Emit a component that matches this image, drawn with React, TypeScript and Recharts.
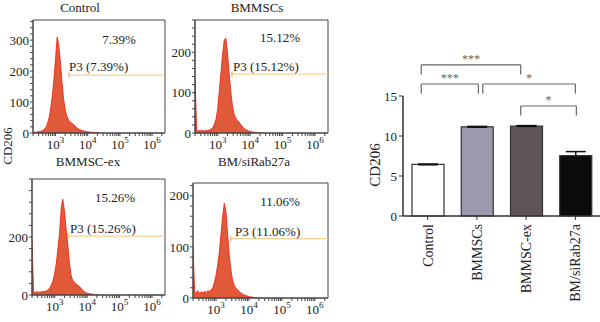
import React from 'react'
import {
  AreaChart,
  Area,
  BarChart,
  Bar,
  Cell,
  ErrorBar,
  XAxis,
  YAxis,
  ReferenceArea,
  ReferenceLine,
} from 'recharts'

const FONT = '"Liberation Serif", "DejaVu Serif", serif'
const INK = '#222'

// ─── Histogram data (log10 of CD206 intensity vs. count) ─────────────────────

const LOG_BINS = [
  2.3, 2.35, 2.4, 2.45, 2.5, 2.55, 2.6, 2.65, 2.7, 2.75,
  2.8, 2.85, 2.9, 2.95, 3.0, 3.05, 3.1, 3.15, 3.2, 3.25,
  3.3, 3.35, 3.4, 3.45, 3.5, 3.55, 3.6, 3.65, 3.7, 3.75,
  3.8, 3.85, 3.9, 3.95, 4.0, 4.05, 4.1, 4.15, 4.2, 4.25,
  4.3, 4.35, 4.4,
]

const CONTROL_COUNTS = [
  2, 3, 2, 5, 4, 6, 8, 12, 18, 30,
  50, 80, 120, 175, 240, 310, 285, 230, 165, 110,
  75, 55, 42, 36, 32, 28, 24, 18, 14, 11,
  9, 7, 6, 5, 4, 3, 3, 2, 2, 1,
  1, 0, 0,
]

const BMMSCS_COUNTS = [
  138, 6, 5, 7, 5, 6, 5, 7, 6, 8,
  10, 14, 22, 35, 60, 105, 150, 195, 230, 235,
  200, 150, 105, 70, 48, 38, 32, 28, 22, 17,
  12, 9, 7, 5, 4, 3, 2, 2, 1, 1,
  0, 0, 0,
]

const BMMSC_EX_COUNTS = [
  190, 10, 8, 12, 9, 11, 10, 13, 12, 15,
  18, 25, 35, 50, 75, 110, 160, 215, 300, 330,
  290, 230, 180, 115, 70, 52, 45, 40, 35, 30,
  25, 18, 12, 9, 6, 5, 4, 3, 2, 1,
  1, 0, 0,
]

const SIRAB_COUNTS = [
  100, 12, 10, 14, 9, 12, 10, 13, 11, 14,
  13, 16, 20, 30, 45, 65, 90, 125, 160, 185,
  170, 125, 85, 55, 35, 25, 20, 16, 13, 10,
  8, 6, 5, 4, 3, 2, 2, 1, 1, 0,
  0, 0, 0,
]

const PANEL_COUNTS = [CONTROL_COUNTS, BMMSCS_COUNTS, BMMSC_EX_COUNTS, SIRAB_COUNTS]
const PANEL_TITLES = ['Control', 'BMMSCs', 'BMMSC-ex', 'BM/siRab27a']
const PANEL_PCTS = ['7.39%', '15.12%', '15.26%', '11.06%']
const Y_MAX = [365, 280, 400, 225]
const Y_TICK_STEP = [20, 20, 40, 20]
const Y_LABEL_STEP = [100, 100, 200, 100]
const GATE_START = [3.42, 3.44, 3.41, 3.45]
const GATE_LEVEL = [187, 146, 203, 116]
const X_MAJOR = [3, 4, 5, 6]
const X_MIN = 2.3
const X_MAX = 6.4

// ─── Bar chart data ──────────────────────────────────────────────────────────

const BAR_GROUPS = ['Control', 'BMMSCs', 'BMMSC-ex', 'BM/siRab27a']
const BAR_MEANS = [6.45, 11.15, 11.25, 7.55]
const BAR_ERRORS = [0.05, 0.05, 0.05, 0.5]
const BAR_FILLS = ['#ffffff', '#9c9aaf', '#5f5559', '#0b0b0b']
const BAR_Y_TICKS = [0, 5, 10, 15]

const SIG_X1 = [-0.13, -0.13, 1.12, 1.89]
const SIG_X2 = [1.89, 1.03, 3.0, 3.02]
const SIG_LEVEL = [18.9, 16.5, 16.5, 13.75]
const SIG_MARK = ['***', '***', '*', '*']

// ─── Layout ──────────────────────────────────────────────────────────────────

const BOXES = [
  { x0: 33, x1: 165, y0: 20, y1: 133 },
  { x0: 195, x1: 328, y0: 20, y1: 133 },
  { x0: 32, x1: 165, y0: 179, y1: 295 },
  { x0: 193, x1: 328, y0: 183, y1: 298 },
]
const TITLE_POS = [[80, 7], [257, 7], [88, 161], [254, 161]]
const PCT_POS = [[119, 39], [280, 37], [115, 197], [280, 201]]
const GATE_LABEL_POS = [[69, 66], [233, 66], [70, 228], [235, 231]]

const X_TICKS: number[] = []
for (let n = 2; n <= 6; n++) {
  for (let k = 1; k <= 9; k++) {
    const v = k === 1 ? n : n + Math.log10(k)
    if (v >= X_MIN && v <= X_MAX) X_TICKS.push(v)
  }
}

// ─── Helpers ─────────────────────────────────────────────────────────────────

function Txt({ x, y, children, size = 13, anchor = 'middle', rotate = 0 }: {
  x: number; y: number; children: React.ReactNode; size?: number; anchor?: 'middle' | 'start'; rotate?: number
}) {
  const tx = anchor === 'middle' ? '-50%' : '0'
  return (
    <div
      style={{
        position: 'absolute', left: x, top: y, fontSize: size, fontFamily: FONT, color: INK,
        lineHeight: 1, whiteSpace: 'nowrap',
        transform: `translate(${tx}, -50%) rotate(${rotate}deg)`,
      }}
    >
      {children}
    </div>
  )
}

function PowerTick(props: any) {
  const { x, y, payload } = props
  if (!X_MAJOR.includes(payload.value)) return <g />
  return (
    <text x={x} y={y + 11} textAnchor="middle" fontSize={13} fontFamily={FONT} fill={INK}>
      <tspan>10</tspan>
      <tspan dy={-6} fontSize={9}>{payload.value}</tspan>
    </text>
  )
}

function GroupTick(props: any) {
  const { x, y, payload } = props
  return (
    <text
      x={x} y={y + 2} dy="0.35em" textAnchor="end" fontSize={14} fontFamily={FONT} fill={INK}
      transform={`rotate(-90, ${x}, ${y + 2})`}
    >
      {BAR_GROUPS[payload.value]}
    </text>
  )
}

// ─── Histogram panel ─────────────────────────────────────────────────────────

function Histogram({ i }: { i: number }) {
  const box = BOXES[i]
  const yMax = Y_MAX[i]
  const data = LOG_BINS.map((x, k) => ({ x, c: PANEL_COUNTS[i][k] }))
  const yTicks: number[] = []
  for (let v = 0; v <= yMax; v += Y_TICK_STEP[i]) yTicks.push(v)
  const half = yMax * 0.025
  return (
    <div style={{ position: 'absolute', left: box.x0 - 30, top: box.y0 - 6 }}>
      <AreaChart
        width={box.x1 - box.x0 + 36}
        height={box.y1 - box.y0 + 30}
        data={data}
        margin={{ top: 6, right: 6, bottom: 0, left: 0 }}
      >
        <XAxis
          dataKey="x" type="number" domain={[X_MIN, X_MAX]} allowDataOverflow
          ticks={X_TICKS} interval={0} tick={<PowerTick />} tickSize={3} height={24}
          axisLine={{ stroke: '#444' }} tickLine={{ stroke: '#444' }}
        />
        <YAxis
          type="number" domain={[0, yMax]} allowDataOverflow ticks={yTicks} interval={0}
          width={30} tickSize={3} tickMargin={1}
          tickFormatter={(v: number) => (v % Y_LABEL_STEP[i] === 0 && v < yMax * 0.97 ? String(v) : '')}
          tick={{ fontSize: 13, fontFamily: FONT, fill: INK }}
          axisLine={{ stroke: '#444' }} tickLine={{ stroke: '#444' }}
        />
        <Area
          type="linear" dataKey="c" fill="#e05a3a" fillOpacity={1} stroke="#f2190c" strokeWidth={0.8}
          dot={false} activeDot={false} isAnimationActive={false}
        />
        <ReferenceLine
          segment={[{ x: GATE_START[i], y: GATE_LEVEL[i] }, { x: X_MAX, y: GATE_LEVEL[i] }]}
          stroke="#f8c47c" strokeWidth={1}
        />
        <ReferenceLine
          segment={[{ x: GATE_START[i], y: GATE_LEVEL[i] - half }, { x: GATE_START[i], y: GATE_LEVEL[i] + half }]}
          stroke="#f3a94a" strokeWidth={1}
        />
        <ReferenceArea x1={X_MIN} x2={X_MAX} y1={0} y2={yMax} fill="none" stroke="#444" strokeWidth={1} />
      </AreaChart>
    </div>
  )
}

// ─── Bar chart ───────────────────────────────────────────────────────────────

function Cd206Bars() {
  const data = BAR_GROUPS.map((name, i) => ({ idx: i, name, mean: BAR_MEANS[i], err: BAR_ERRORS[i] }))
  return (
    <div style={{ position: 'absolute', left: 340, top: 0 }}>
      <BarChart width={260} height={322} data={data} margin={{ top: 96, right: 0, bottom: 0, left: 0 }}>
        <XAxis
          dataKey="idx" type="number" domain={[-0.5, 3.5]} allowDataOverflow ticks={[0, 1, 2, 3]}
          interval={0} height={106} tick={<GroupTick />} tickSize={4}
          axisLine={{ stroke: '#333', strokeWidth: 1.5 }} tickLine={{ stroke: '#333' }}
        />
        <YAxis
          type="number" domain={[0, 15]} ticks={BAR_Y_TICKS} interval={0} width={63} tickSize={4}
          tick={{ fontSize: 13, fontFamily: FONT, fill: INK }}
          axisLine={{ stroke: '#333', strokeWidth: 1.5 }} tickLine={{ stroke: '#333' }}
        />
        <Bar dataKey="mean" barSize={32} stroke="#333" strokeWidth={1.2} isAnimationActive={false}>
          {data.map((_, i) => (
            <Cell key={`bar-${i}`} fill={BAR_FILLS[i]} />
          ))}
          <ErrorBar dataKey="err" width={10} stroke="#111" strokeWidth={1.5} direction="y" />
        </Bar>
        {SIG_MARK.map((mark, i) => (
          <React.Fragment key={`sig-${i}`}>
            <ReferenceLine
              ifOverflow="visible" stroke="#666" strokeWidth={1.2}
              segment={[{ x: SIG_X1[i], y: SIG_LEVEL[i] }, { x: SIG_X2[i], y: SIG_LEVEL[i] }]}
              label={{ value: mark, position: 'top', fill: '#666', fontSize: 12, fontFamily: FONT, offset: 2 }}
            />
            <ReferenceLine
              ifOverflow="visible" stroke="#666" strokeWidth={1.2}
              segment={[{ x: SIG_X1[i], y: SIG_LEVEL[i] }, { x: SIG_X1[i], y: SIG_LEVEL[i] - 1.2 }]}
            />
            <ReferenceLine
              ifOverflow="visible" stroke="#666" strokeWidth={1.2}
              segment={[{ x: SIG_X2[i], y: SIG_LEVEL[i] }, { x: SIG_X2[i], y: SIG_LEVEL[i] - 1.2 }]}
            />
          </React.Fragment>
        ))}
      </BarChart>
    </div>
  )
}

// ─── Main ────────────────────────────────────────────────────────────────────

export default function App() {
  return (
    <div style={{ position: 'absolute', left: 0, top: 0, width: 600, height: 322, background: '#fff', overflow: 'hidden' }}>
      {PANEL_TITLES.map((_, i) => (
        <Histogram key={`h-${i}`} i={i} />
      ))}
      {PANEL_TITLES.map((t, i) => (
        <React.Fragment key={`t-${i}`}>
          <Txt x={TITLE_POS[i][0]} y={TITLE_POS[i][1]}>{t}</Txt>
          <Txt x={PCT_POS[i][0]} y={PCT_POS[i][1]}>{PANEL_PCTS[i]}</Txt>
          <Txt x={GATE_LABEL_POS[i][0]} y={GATE_LABEL_POS[i][1]} anchor="start">P3 ({PANEL_PCTS[i]})</Txt>
        </React.Fragment>
      ))}
      <Txt x={7} y={146} rotate={-90}>CD206</Txt>
      <Cd206Bars />
      <Txt x={375} y={165} size={15} rotate={-90}>CD206</Txt>
    </div>
  )
}
